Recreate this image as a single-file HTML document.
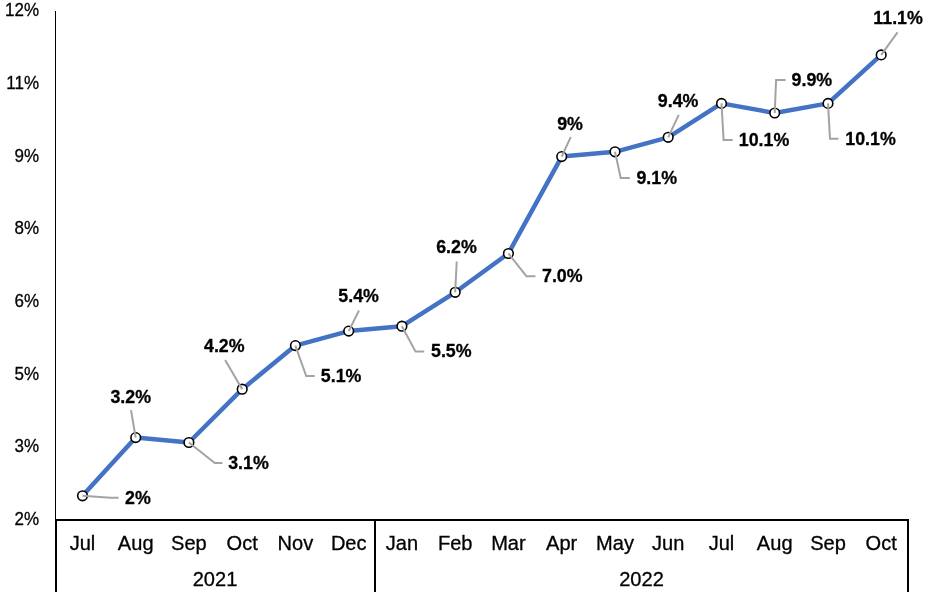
<!DOCTYPE html>
<html><head><meta charset="utf-8"><title>Chart</title>
<style>
html,body{margin:0;padding:0;background:#fff;}
body{width:928px;height:598px;overflow:hidden;font-family:"Liberation Sans",sans-serif;}
svg{display:block;}
text{font-family:"Liberation Sans",sans-serif;fill:#000;stroke:#000;stroke-width:0.3px;}
.yl{font-size:17.90px;text-anchor:end;}
.xl{font-size:19.30px;text-anchor:middle;}
.dl{font-size:18.20px;font-weight:bold;}
.ld{fill:none;stroke:#a3a3a3;stroke-width:2;}
.mk{fill:#fff;stroke:#000;stroke-width:1.6;}
</style></head><body>
<svg width="928" height="598" viewBox="0 0 928 598">
<rect width="928" height="598" fill="#fff"/>
<g shape-rendering="crispEdges" fill="#000">
<rect x="55" y="11.3" width="1" height="508"/>
<rect x="55" y="519" width="854" height="2"/>
<rect x="55" y="520" width="2" height="71.6"/>
<rect x="374" y="520" width="2" height="71.6"/>
<rect x="907" y="520" width="2" height="71.6"/>
</g>
<polyline fill="none" stroke="#4472c4" stroke-width="4.5" stroke-linejoin="round" stroke-linecap="round" points="82.5,495.8 135.7,437.6 188.9,442.5 242.2,389.2 295.4,345.6 348.7,331.1 401.9,326.2 455.2,292.3 508.4,253.5 561.7,156.6 615.0,151.8 668.2,137.3 721.5,103.4 774.7,113.0 828.0,103.4 881.2,54.9"/>
<circle class="mk" cx="82.5" cy="495.8" r="4.8"/>
<circle class="mk" cx="135.7" cy="437.6" r="4.8"/>
<circle class="mk" cx="188.9" cy="442.5" r="4.8"/>
<circle class="mk" cx="242.2" cy="389.2" r="4.8"/>
<circle class="mk" cx="295.4" cy="345.6" r="4.8"/>
<circle class="mk" cx="348.7" cy="331.1" r="4.8"/>
<circle class="mk" cx="401.9" cy="326.2" r="4.8"/>
<circle class="mk" cx="455.2" cy="292.3" r="4.8"/>
<circle class="mk" cx="508.4" cy="253.5" r="4.8"/>
<circle class="mk" cx="561.7" cy="156.6" r="4.8"/>
<circle class="mk" cx="615.0" cy="151.8" r="4.8"/>
<circle class="mk" cx="668.2" cy="137.3" r="4.8"/>
<circle class="mk" cx="721.5" cy="103.4" r="4.8"/>
<circle class="mk" cx="774.7" cy="113.0" r="4.8"/>
<circle class="mk" cx="828.0" cy="103.4" r="4.8"/>
<circle class="mk" cx="881.2" cy="54.9" r="4.8"/>
<polyline class="ld" points="82.5,495.8 110.4,497.7 118.6,497.7"/>
<polyline class="ld" points="131.0,410.1 135.7,437.6"/>
<polyline class="ld" points="188.9,442.5 214.8,463.0 222.4,463.0"/>
<polyline class="ld" points="225.1,359.9 242.2,389.2"/>
<polyline class="ld" points="295.4,345.6 306.2,376.1 314.7,376.1"/>
<polyline class="ld" points="359.0,310.5 348.7,331.1"/>
<polyline class="ld" points="401.9,326.2 415.6,351.6 424.2,351.6"/>
<polyline class="ld" points="456.7,261.5 455.2,292.3"/>
<polyline class="ld" points="508.4,253.5 526.4,276.2 535.4,276.2"/>
<polyline class="ld" points="570.8,136.8 561.7,156.6"/>
<polyline class="ld" points="615.0,151.8 620.7,177.9 629.8,177.9"/>
<polyline class="ld" points="678.7,114.9 668.2,137.3"/>
<polyline class="ld" points="721.5,103.4 723.6,140.1 732.7,140.1"/>
<polyline class="ld" points="774.7,113.0 776.1,80.0 785.5,80.0"/>
<polyline class="ld" points="828.0,103.4 830.0,138.7 838.5,138.7"/>
<polyline class="ld" points="897.5,32.4 881.2,54.9"/>
<g style="opacity:0.999">
<text class="yl" transform="translate(39.0,525.10) scale(0.950,1)">2%</text>
<text class="yl" transform="translate(39.0,452.38) scale(0.950,1)">3%</text>
<text class="yl" transform="translate(39.0,379.66) scale(0.950,1)">5%</text>
<text class="yl" transform="translate(39.0,306.94) scale(0.950,1)">6%</text>
<text class="yl" transform="translate(39.0,234.22) scale(0.950,1)">8%</text>
<text class="yl" transform="translate(39.0,161.50) scale(0.950,1)">9%</text>
<text class="yl" transform="translate(39.0,88.78) scale(0.950,1)">11%</text>
<text class="yl" transform="translate(39.0,16.06) scale(0.950,1)">12%</text>
<text class="xl" transform="translate(82.5,549.7) scale(1.040,1)">Jul</text>
<text class="xl" transform="translate(135.7,549.7) scale(1.040,1)">Aug</text>
<text class="xl" transform="translate(188.9,549.7) scale(1.040,1)">Sep</text>
<text class="xl" transform="translate(242.2,549.7) scale(1.040,1)">Oct</text>
<text class="xl" transform="translate(295.4,549.7) scale(1.040,1)">Nov</text>
<text class="xl" transform="translate(348.7,549.7) scale(1.040,1)">Dec</text>
<text class="xl" transform="translate(401.9,549.7) scale(1.040,1)">Jan</text>
<text class="xl" transform="translate(455.2,549.7) scale(1.040,1)">Feb</text>
<text class="xl" transform="translate(508.4,549.7) scale(1.040,1)">Mar</text>
<text class="xl" transform="translate(561.7,549.7) scale(1.040,1)">Apr</text>
<text class="xl" transform="translate(615.0,549.7) scale(1.040,1)">May</text>
<text class="xl" transform="translate(668.2,549.7) scale(1.040,1)">Jun</text>
<text class="xl" transform="translate(721.5,549.7) scale(1.040,1)">Jul</text>
<text class="xl" transform="translate(774.7,549.7) scale(1.040,1)">Aug</text>
<text class="xl" transform="translate(828.0,549.7) scale(1.040,1)">Sep</text>
<text class="xl" transform="translate(881.2,549.7) scale(1.040,1)">Oct</text>
<text class="xl" transform="translate(215.0,586.0) scale(1.040,1)">2021</text>
<text class="xl" transform="translate(641.5,586.0) scale(1.040,1)">2022</text>
<text class="dl" transform="translate(125.0,503.7) scale(0.980,1)">2%</text>
<text class="dl" transform="translate(110.4,403.3) scale(0.980,1)">3.2%</text>
<text class="dl" transform="translate(228.2,469.0) scale(0.980,1)">3.1%</text>
<text class="dl" transform="translate(204.0,352.4) scale(0.980,1)">4.2%</text>
<text class="dl" transform="translate(320.8,382.3) scale(0.980,1)">5.1%</text>
<text class="dl" transform="translate(338.3,302.3) scale(0.980,1)">5.4%</text>
<text class="dl" transform="translate(431.0,356.6) scale(0.980,1)">5.5%</text>
<text class="dl" transform="translate(436.2,253.1) scale(0.980,1)">6.2%</text>
<text class="dl" transform="translate(542.0,282.3) scale(0.980,1)">7.0%</text>
<text class="dl" transform="translate(557.2,130.2) scale(0.980,1)">9%</text>
<text class="dl" transform="translate(636.4,183.9) scale(0.980,1)">9.1%</text>
<text class="dl" transform="translate(657.8,106.5) scale(0.980,1)">9.4%</text>
<text class="dl" transform="translate(738.8,146.0) scale(0.980,1)">10.1%</text>
<text class="dl" transform="translate(791.6,86.4) scale(0.980,1)">9.9%</text>
<text class="dl" transform="translate(845.3,145.3) scale(0.980,1)">10.1%</text>
<text class="dl" transform="translate(873.3,24.3) scale(0.980,1)">11.1%</text>
</g>
</svg>
</body></html>
